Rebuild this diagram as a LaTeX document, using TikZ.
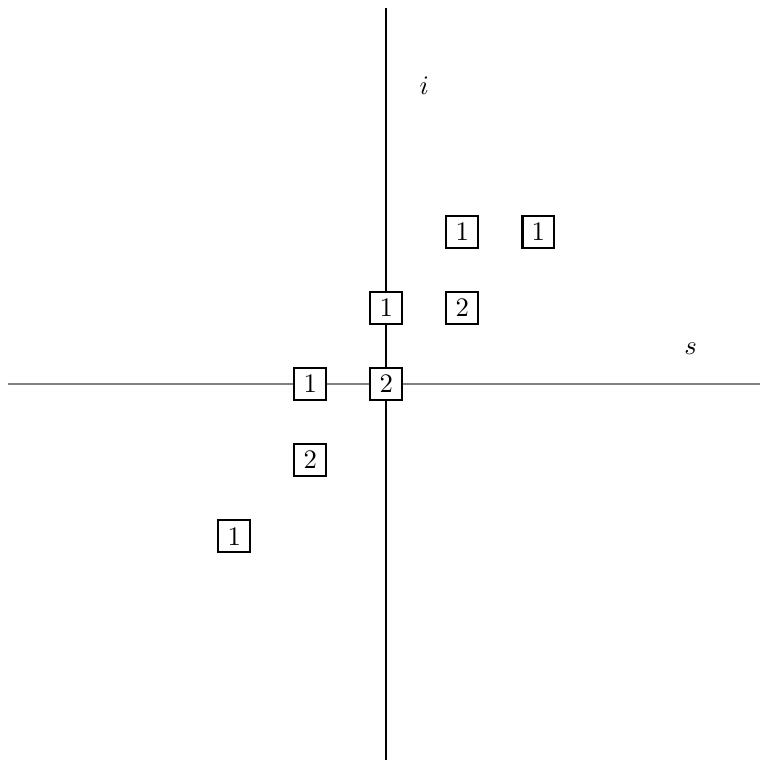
\documentclass[tikz,border=0pt]{standalone}
\usetikzlibrary{positioning}

\begin{document}
\begin{tikzpicture}[
    axis/.style={line width=0.8pt},
    cell/.style={draw, line width=0.8pt, fill=white, minimum size=0.42cm, inner sep=1pt}
]
\useasboundingbox (-5.08,-4.97) rectangle (4.92,5.05);

% ================= Axes =================
\coordinate (sleft) at (-4.97,0);
\coordinate (sright) at (4.92,0);
\coordinate (ibot) at (0,-4.95);
\coordinate (itop) at (0,4.95);
\draw[axis, gray] (sleft) -- (sright);
\draw[axis] (ibot) -- (itop);

% ================= Labels =================
\node (ilab) at (0.5,3.92) {$i$};
\node (slab) at (4,0.47) {$s$};

% ================= Cells =================
\node[cell] (c00) at (0,0) {2};
\node[cell] (c01) at (0,1) {1};
\node[cell] (cm10) at (-1,0) {1};
\node[cell] (cm1m1) at (-1,-1) {2};
\node[cell] (cm2m2) at (-2,-2) {1};
\node[cell] (c11) at (1,1) {2};
\node[cell] (c12) at (1,2) {1};
\node[cell] (c22) at (2,2) {1};

\end{tikzpicture}
\end{document}
